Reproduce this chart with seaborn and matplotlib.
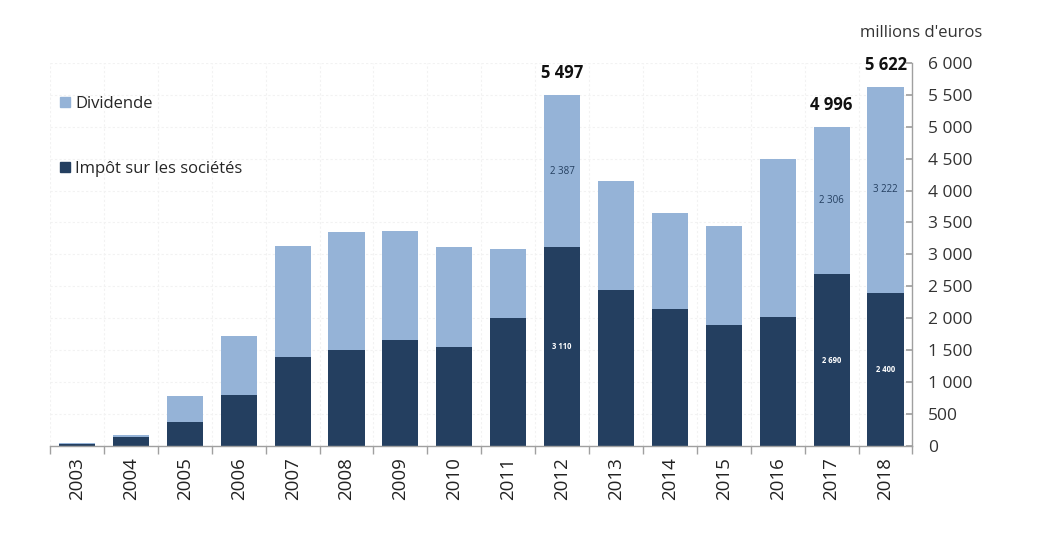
import matplotlib
matplotlib.use("Agg")
import matplotlib.pyplot as plt
import matplotlib.ticker as mticker
from matplotlib.patches import Patch
import numpy as np
import pandas as pd
import seaborn as sns

years = ["2003", "2004", "2005", "2006", "2007", "2008", "2009", "2010",
         "2011", "2012", "2013", "2014", "2015", "2016", "2017", "2018"]
impot = [40, 140, 375, 800, 1394, 1504, 1660, 1551,
         2005, 3110, 2444, 2146, 1896, 2021, 2690, 2400]
dividende = [8, 30, 408, 923, 1739, 1848, 1708, 1566,
             1081, 2387, 1707, 1504, 1550, 2475, 2306, 3222]
# years whose values are written on the chart
labelled = ["2012", "2017", "2018"]

light = "#95b3d7"
dark = "#243f60"

sns.set_theme(style="white")
plt.rcParams["font.family"] = ["Open Sans", "DejaVu Sans"]

df = pd.DataFrame({"annee": years, "impot": impot, "dividende": dividende})
df["total"] = df["impot"] + df["dividende"]

fig = plt.figure(figsize=(10.44, 5.46), dpi=100)
ax = fig.add_axes([0.048, 0.183, 0.826, 0.702])

sns.barplot(data=df, x="annee", y="total", color=light, saturation=1,
            width=0.67, linewidth=0, ax=ax)
sns.barplot(data=df, x="annee", y="impot", color=dark, saturation=1,
            width=0.67, linewidth=0, ax=ax)

ax.set_xlim(-0.5, 15.5)
ax.set_ylim(0, 6000)
ax.set_xlabel("")
ax.set_ylabel("")

# y axis on the right
ax.yaxis.tick_right()
ax.yaxis.set_major_locator(mticker.MultipleLocator(500))
ax.yaxis.set_major_formatter(mticker.FuncFormatter(
    lambda v, p: f"{int(v):,}".replace(",", " ")))
ax.tick_params(axis="y", direction="in", length=4, color="#a0a0a0",
               labelsize=12.5, labelcolor="#333333", pad=11, right=True, left=False)

# x ticks: labels at centres, tick marks between categories
ax.set_xticks(range(len(years)))
ax.set_xticklabels(years, rotation=90, fontsize=13.5, color="#222222")
ax.tick_params(axis="x", length=0, pad=8)
ax.set_xticks(np.arange(-0.5, len(years), 1), minor=True)
ax.tick_params(axis="x", which="minor", direction="out", length=6,
               color="#a0a0a0", bottom=True)

for side in ["top", "left"]:
    ax.spines[side].set_visible(False)
for side in ["bottom", "right"]:
    ax.spines[side].set_color("#a0a0a0")
    ax.spines[side].set_linewidth(1)

ax.grid(True, axis="y", color="#f2f2f2", linewidth=0.8, linestyle=(0, (2, 2)))
ax.grid(True, axis="x", which="minor", color="#f2f2f2", linewidth=0.8,
        linestyle=(0, (2, 2)))
ax.set_axisbelow(True)

# value labels
for i, y in enumerate(years):
    if y in labelled:
        tot = df.loc[i, "total"]
        ax.text(i, tot + 200, f"{tot:,}".replace(",", " "), ha="center",
                va="bottom", fontsize=12, fontweight="bold", color="#111111")
        ax.text(i, impot[i] + dividende[i] / 2,
                f"{dividende[i]:,}".replace(",", " "), ha="center",
                va="center", fontsize=7, color=dark)
        ax.text(i, impot[i] / 2,
                f"{impot[i]:,}".replace(",", " "), ha="center", va="center",
                fontsize=5.5, fontweight="bold", color="white")

handles = [Patch(color=light), Patch(color=dark)]
ax.legend(handles, ["Dividende", "Impôt sur les sociétés"], loc="upper left",
          bbox_to_anchor=(0.0, 0.94), frameon=False, fontsize=12,
          handlelength=0.6, handleheight=0.6, handletextpad=0.3,
          labelspacing=2.95, borderaxespad=0.2)

fig.text(0.882, 0.94, "millions d'euros", ha="center", va="center",
         fontsize=12, color="#333333")

fig.savefig("out.png", dpi=100, facecolor="white")
